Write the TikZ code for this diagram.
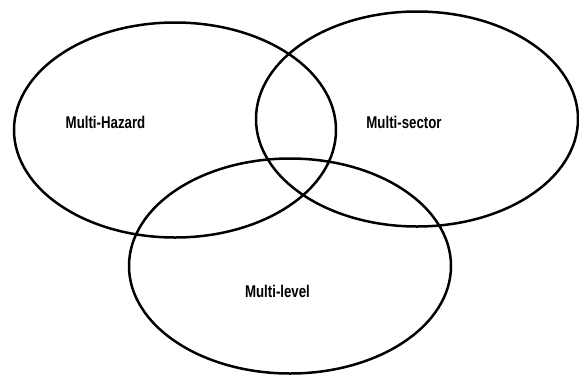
\documentclass[tikz,border=0pt]{standalone}
\usepackage{fontspec}
\setmainfont{Liberation Sans}
\newfontfamily\setfont[FakeStretch=0.78]{Liberation Sans}
\usetikzlibrary{shapes.geometric}
\begin{document}
\begin{tikzpicture}[x=1pt, y=-1pt]
    \tikzstyle{set}=[ellipse, draw=black, line width=2.5pt, minimum width=322pt, minimum height=215pt, inner sep=0pt]
    \tikzstyle{lab}=[font=\setfont\bfseries\fontsize{17}{20}\selectfont, inner sep=0pt, anchor=base]
    \useasboundingbox (0,0) rectangle (579,376);
    % the three sets
    \node[set] (hazard) at (175,130) {};
    \node[set] (sector) at (417,119) {};
    \node[set] (level) at (290,266) {};
    % names
    \node[lab] (hazardlab) at (105.5,128) {Multi-Hazard};
    \node[lab] (sectorlab) at (404,128) {Multi-sector};
    \node[lab] (levellab) at (277.5,297) {Multi-level};
\end{tikzpicture}
\end{document}
